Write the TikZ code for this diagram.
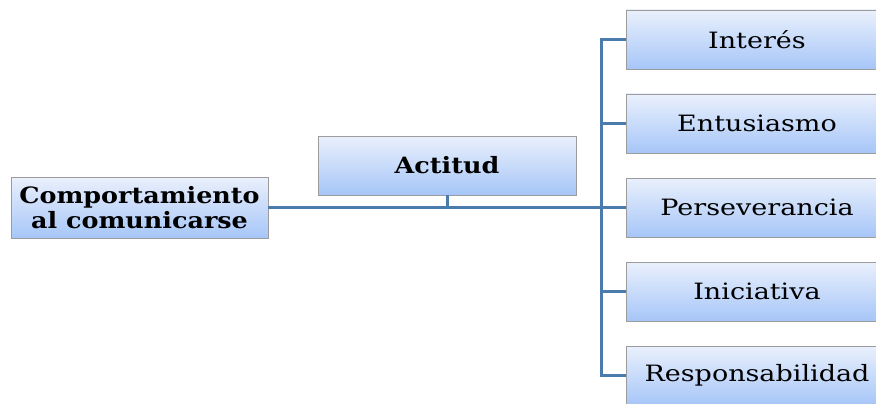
\documentclass[tikz,border=0pt]{standalone}
\usepackage{fontspec}
\setmainfont[FakeStretch=1.2, BoldFeatures={FakeStretch=1.13}]{DejaVu Serif}
\usetikzlibrary{shadows}
\definecolor{boxtop}{HTML}{EAF0FC}
\definecolor{boxbot}{HTML}{A6C6F8}
\definecolor{boxline}{HTML}{9C9C9C}
\definecolor{wire}{HTML}{4A7BAD}
\tikzset{
  card/.style={draw=boxline, line width=0.8pt, top color=boxtop, bottom color=boxbot,
    minimum height=59pt, inner sep=0pt, align=center,
    drop shadow={shadow xshift=1.2pt, shadow yshift=-1.2pt, opacity=0.35, fill=black!60}},
  headcard/.style={card, font=\fontsize{22.5}{25}\selectfont\bfseries},
  itemcard/.style={card, minimum width=262pt, font=\fontsize{22.5}{25}\selectfont},
  wireline/.style={draw=wire, line width=3pt}
}
\begin{document}
\begin{tikzpicture}[x=1pt, y=-1pt]
\useasboundingbox (0,0) rectangle (876,404);
\clip (0,0) rectangle (876,404);

% main concept and its attribute
\node[headcard, minimum width=257pt, minimum height=61pt] (comp) at (139.5,207.5)
  {Comportamiento\\al comunicarse};
\node[headcard, minimum width=258pt] (act) at (447,165.5) {Actitud};

% list of attitudes
\node[itemcard] (inter) at (757,39.5)  {Interés};
\node[itemcard] (entu)  at (757,123.5) {Entusiasmo};
\node[itemcard] (perse) at (757,207.5) {Perseverancia};
\node[itemcard] (inic)  at (757,291.5) {Iniciativa};
\node[itemcard] (resp)  at (757,375.5) {Responsabilidad};

\coordinate (bus) at (601,207.5);

% connectors
\draw[wireline] (comp.east) -- (perse.west);
\draw[wireline] (act.south) -- (act.south |- comp.east);
\draw[wireline] (inter.west) -| (bus);
\draw[wireline] (resp.west) -| (bus);
\draw[wireline] (entu.west) -- (entu.west -| bus);
\draw[wireline] (inic.west) -- (inic.west -| bus);
\end{tikzpicture}
\end{document}
